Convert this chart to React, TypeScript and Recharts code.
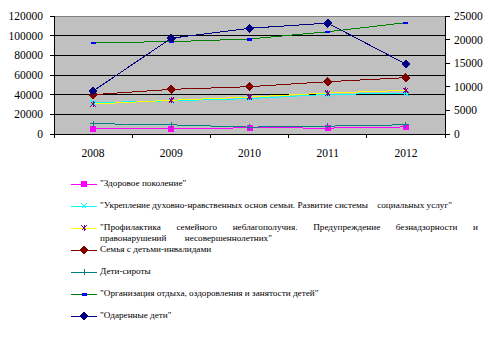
import React from "react";
import { LineChart, Line, XAxis, YAxis, CartesianGrid, Legend, ReferenceLine } from "recharts";

const years = ["2008", "2009", "2010", "2011", "2012"];
const zdorovoe = [5100, 5300, 6300, 6000, 7200];
const ukreplenie = [31800, 33800, 36000, 40300, 41300];
const profilaktika = [30400, 34300, 37600, 41600, 44400];
const semya = [40000, 45400, 48100, 53200, 57300];
const sirots = [10500, 9300, 7000, 8000, 9400];
const organizaciya = [92900, 93900, 96600, 104000, 113200];
const odarennye = [9100, 20300, 22400, 23500, 14800]; // secondary axis
const leftTicks = [0, 20000, 40000, 60000, 80000, 100000, 120000];
const rightTicks = [0, 5000, 10000, 15000, 20000, 25000];

const data = years.map((y, i) => ({
  year: y,
  s1: zdorovoe[i],
  s2: ukreplenie[i],
  s3: profilaktika[i],
  s4: semya[i],
  s5: sirots[i],
  s6: organizaciya[i],
  s7: odarennye[i],
}));

const FONT = "'Liberation Serif', 'Times New Roman', Tinos, 'DejaVu Serif', serif";

type Kind = "square" | "x" | "star" | "diamond" | "plus" | "dash";

function Marker({ kind, color, cx, cy }: { kind: Kind; color: string; cx: number; cy: number }) {
  switch (kind) {
    case "square":
      return <rect x={cx - 3} y={cy - 3} width={6} height={6} fill={color} />;
    case "x":
      return (
        <g stroke={color} strokeWidth={1}>
          <line x1={cx - 2.5} y1={cy - 2.5} x2={cx + 2.5} y2={cy + 2.5} />
          <line x1={cx - 2.5} y1={cy + 2.5} x2={cx + 2.5} y2={cy - 2.5} />
        </g>
      );
    case "star":
      return (
        <g stroke={color} strokeWidth={1}>
          <line x1={cx - 2.5} y1={cy - 2.5} x2={cx + 2.5} y2={cy + 2.5} />
          <line x1={cx - 2.5} y1={cy + 2.5} x2={cx + 2.5} y2={cy - 2.5} />
          <line x1={cx} y1={cy - 3} x2={cx} y2={cy + 3} />
        </g>
      );
    case "diamond":
      return (
        <polygon
          points={`${cx},${cy - 4} ${cx + 4},${cy} ${cx},${cy + 4} ${cx - 4},${cy}`}
          fill={color}
          stroke={color}
        />
      );
    case "plus":
      return (
        <g stroke={color} strokeWidth={1}>
          <line x1={cx - 3} y1={cy} x2={cx + 3} y2={cy} />
          <line x1={cx} y1={cy - 3} x2={cx} y2={cy + 3} />
        </g>
      );
    case "dash":
      return <rect x={cx - 2.5} y={cy - 1} width={5} height={2.5} fill={color} />;
  }
  return null;
}

const series: {
  key: string;
  name: string;
  line: string;
  marker: string;
  kind: Kind;
  axis: string;
}[] = [
  { key: "s1", name: "\"Здоровое поколение\"", line: "#FF00FF", marker: "#FF00FF", kind: "square", axis: "left" },
  {
    key: "s2",
    name: "\"Укрепление духовно-нравственных основ семьи. Развитие системы    социальных услуг\"",
    line: "#00FFFF",
    marker: "#00FFFF",
    kind: "x",
    axis: "left",
  },
  {
    key: "s3",
    name: "\"Профилактика семейного неблагополучия. Предупреждение безнадзорности и|правонарушений        несовершеннолетних\"",
    line: "#FFFF00",
    marker: "#800080",
    kind: "star",
    axis: "left",
  },
  { key: "s4", name: "Семья с детьми-инвалидами", line: "#800000", marker: "#800000", kind: "diamond", axis: "left" },
  { key: "s5", name: "Дети-сироты", line: "#008080", marker: "#008080", kind: "plus", axis: "left" },
  {
    key: "s6",
    name: "\"Организация отдыха, оздоровления и занятости детей\"",
    line: "#008000",
    marker: "#0000FF",
    kind: "dash",
    axis: "left",
  },
  { key: "s7", name: "\"Одаренные дети\"", line: "#000080", marker: "#000080", kind: "diamond", axis: "right" },
];

const PLOT_LEFT = 54;
const PLOT_RIGHT = 445;
const HALF_BAND = (PLOT_RIGHT - PLOT_LEFT) / years.length / 2;

function XTick(props: any) {
  const { x, y, payload, index } = props;
  return (
    <g>
      <line x1={x - HALF_BAND} y1={y} x2={x - HALF_BAND} y2={y + 4} stroke="#000" />
      {index === years.length - 1 && (
        <line x1={x + HALF_BAND} y1={y} x2={x + HALF_BAND} y2={y + 4} stroke="#000" />
      )}
      <text x={x} y={y + 23} textAnchor="middle" style={{ fontFamily: FONT }} fontSize={11.5} fill="#000">
        {payload.value}
      </text>
    </g>
  );
}

function CustomLegend() {
  return (
    <div style={{ position: "relative", width: 490, height: 160, fontFamily: FONT, fontSize: 9.2, color: "#000" }}>
      {series.map((s, i) => {
        const lines = s.name.split("|");
        return (
          <div key={s.key} style={{ position: "absolute", left: 0, top: 22 * i, width: 490, height: 22 }}>
            <svg width={30} height={22} style={{ position: "absolute", left: 71, top: 0 }}>
              <line x1={0} y1={11} x2={26} y2={11} stroke={s.line} strokeWidth={1} shapeRendering="crispEdges" />
              <Marker kind={s.kind} color={s.marker} cx={13} cy={11} />
            </svg>
            <div style={{ position: "absolute", left: 100, top: 5, width: 378, lineHeight: "11px" }}>
              {lines.map((t, j) => (
                <div
                  key={j}
                  style={{
                    whiteSpace: lines.length > 1 && j === 0 ? "normal" : "pre",
                    textAlign: lines.length > 1 && j === 0 ? "justify" : "left",
                    textAlignLast: lines.length > 1 && j === 0 ? "justify" : "auto",
                  } as any}
                >
                  {t}
                </div>
              ))}
            </div>
          </div>
        );
      })}
    </div>
  );
}

export default function App() {
  return (
    <div style={{ position: "absolute", left: 0, top: 0, width: 490, height: 356, background: "#fff" }}>
      <LineChart
        width={490}
        height={356}
        data={data}
        margin={{ top: 16, right: 0, left: 8, bottom: 192 }}
        style={{ shapeRendering: "crispEdges" }}
      >
        <CartesianGrid
          yAxisId="left"
          vertical={false}
          horizontalValues={leftTicks}
          stroke="#000"
          fill="#C0C0C0"
          strokeOpacity={1}
        />
        <XAxis
          dataKey="year"
          height={30}
          padding={{ left: HALF_BAND, right: HALF_BAND }}
          axisLine={{ stroke: "#000" }}
          tickLine={false}
          tickSize={0}
          tickMargin={0}
          interval={0}
          tick={<XTick />}
        />
        <YAxis
          yAxisId="left"
          orientation="left"
          width={46}
          domain={[0, 120000]}
          ticks={leftTicks}
          interval={0}
          axisLine={{ stroke: "#000" }}
          tickLine={{ stroke: "#000" }}
          tickSize={4}
          tickMargin={7}
          tick={{ fill: "#000", style: { fontFamily: FONT }, fontSize: 11.5 }}
        />
        <YAxis
          yAxisId="right"
          orientation="right"
          width={45}
          domain={[0, 25000]}
          ticks={rightTicks}
          interval={0}
          axisLine={{ stroke: "#000" }}
          tickLine={{ stroke: "#000" }}
          tickSize={5}
          tickMargin={4}
          tick={{ fill: "#000", style: { fontFamily: FONT }, fontSize: 11.5, textAnchor: "start" }}
        />
        <ReferenceLine yAxisId="left" y={120000} stroke="#808080" />
        {series.map((s) => (
          <Line
            key={s.key}
            yAxisId={s.axis}
            dataKey={s.key}
            name={s.name}
            stroke={s.line}
            strokeWidth={1}
            isAnimationActive={false}
            dot={(p: any) => <Marker key={`${s.key}-${p.index}`} kind={s.kind} color={s.marker} cx={p.cx} cy={p.cy} />}
            activeDot={false}
          />
        ))}
        <Legend
          layout="vertical"
          align="center"
          verticalAlign="middle"
          content={() => <CustomLegend />}
          wrapperStyle={{ position: "absolute", left: 0, top: 173, width: 490, height: 160 }}
        />
      </LineChart>
    </div>
  );
}
